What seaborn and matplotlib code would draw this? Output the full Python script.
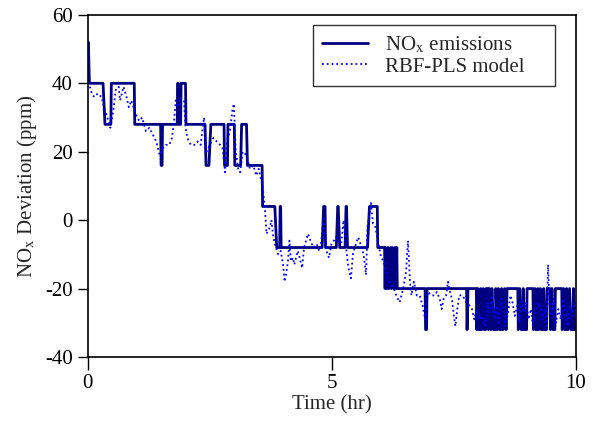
import numpy as np
import pandas as pd
import seaborn as sns
import matplotlib
matplotlib.use("Agg")
import matplotlib.pyplot as plt

# --- Measured NOx emissions (step signal, ppm deviation) ---
nox_time = [0.00, 0.01, 0.03, 0.31, 0.35, 0.47, 0.48, 0.95, 0.96, 1.49, 1.50, 1.52, 1.53,
            1.83, 1.84, 1.85, 1.86, 1.90, 1.91, 2.00, 2.01, 2.40, 2.42, 2.48, 2.52, 2.79,
            2.80, 2.86, 2.87, 3.00, 3.01, 3.13, 3.15, 3.25, 3.27, 3.57, 3.58, 3.83, 3.87,
            3.93, 3.94, 3.95, 3.96, 4.80, 4.83, 4.86, 4.87, 5.09, 5.12, 5.13, 5.16, 5.27,
            5.29, 5.30, 5.32, 5.73, 5.77, 5.93, 5.94, 6.08, 6.09, 6.10, 6.13, 6.15, 6.17,
            6.20, 6.22, 6.24, 6.27, 6.29, 6.31, 6.33, 6.34, 6.91, 6.92, 6.94, 6.95, 7.76,
            7.77, 7.79, 7.96, 7.97, 7.99, 8.01, 8.04, 8.05, 8.07, 8.10, 8.12, 8.15, 8.16,
            8.20, 8.21, 8.23, 8.26, 8.28, 8.31, 8.35, 8.36, 8.39, 8.41, 8.44, 8.47, 8.48,
            8.51, 8.54, 8.57, 8.59, 8.81, 8.82, 8.85, 8.88, 8.91, 8.92, 8.95, 8.99, 9.00,
            9.12, 9.13, 9.16, 9.18, 9.21, 9.22, 9.24, 9.27, 9.29, 9.33, 9.34, 9.37, 9.40,
            9.41, 9.47, 9.48, 9.51, 9.53, 9.57, 9.58, 9.71, 9.72, 9.75, 9.77, 9.80, 9.81,
            9.84, 9.87, 9.90, 9.94, 9.95, 9.97, 10.00]
nox_ppm = [40, 52, 40, 40, 28, 28, 40, 40, 28, 28, 16, 16, 28,
           28, 40, 40, 28, 28, 40, 40, 28, 28, 16, 16, 28, 28,
           16, 16, 28, 28, 16, 16, 28, 28, 16, 16, 4, 4, -8,
           -8, 4, 4, -8, -8, 4, 4, -8, -8, 4, 4, -8, -8,
           4, 4, -8, -8, 4, 4, -8, -8, -20, -8, -20, -8, -20,
           -8, -20, -8, -20, -8, -20, -8, -20, -20, -32, -32, -20, -20,
           -32, -20, -20, -32, -20, -32, -32, -20, -32, -20, -32, -32, -20,
           -20, -32, -20, -32, -20, -32, -32, -20, -32, -20, -32, -32, -20,
           -32, -20, -32, -20, -20, -32, -20, -32, -32, -20, -32, -32, -20,
           -20, -32, -20, -32, -32, -20, -32, -20, -32, -32, -20, -32, -32,
           -20, -20, -32, -20, -32, -32, -20, -20, -32, -20, -32, -32, -20,
           -32, -20, -32, -32, -20, -32, -32]

# --- RBF-PLS model prediction ---
model_time = [0.00, 0.01, 0.02, 0.04, 0.08, 0.13, 0.20, 0.28, 0.33, 0.40, 0.46, 0.52, 0.57,
              0.63, 0.66, 0.73, 0.79, 0.84, 0.89, 0.98, 1.05, 1.11, 1.19, 1.26, 1.33, 1.40,
              1.47, 1.54, 1.60, 1.67, 1.72, 1.76, 1.80, 1.86, 1.90, 1.97, 2.00, 2.04, 2.11,
              2.18, 2.25, 2.31, 2.38, 2.43, 2.50, 2.57, 2.64, 2.71, 2.76, 2.81, 2.85, 2.91,
              2.96, 2.99, 3.03, 3.08, 3.12, 3.17, 3.25, 3.32, 3.39, 3.45, 3.50, 3.53, 3.58,
              3.63, 3.66, 3.73, 3.76, 3.79, 3.83, 3.90, 3.95, 4.00, 4.03, 4.06, 4.10, 4.13,
              4.16, 4.20, 4.23, 4.30, 4.34, 4.39, 4.43, 4.47, 4.51, 4.56, 4.62, 4.69, 4.74,
              4.77, 4.83, 4.89, 4.94, 4.99, 5.04, 5.09, 5.14, 5.19, 5.24, 5.29, 5.34, 5.39,
              5.43, 5.49, 5.54, 5.61, 5.65, 5.70, 5.73, 5.80, 5.84, 5.89, 5.94, 6.01, 6.06,
              6.10, 6.17, 6.27, 6.32, 6.39, 6.46, 6.52, 6.56, 6.60, 6.63, 6.68, 6.74, 6.80,
              6.86, 6.91, 6.94, 6.97, 7.04, 7.11, 7.15, 7.21, 7.25, 7.29, 7.34, 7.38, 7.42,
              7.46, 7.50, 7.53, 7.57, 7.61, 7.68, 7.75, 7.82, 7.87, 7.92, 7.96, 8.02, 8.08,
              8.14, 8.19, 8.24, 8.28, 8.33, 8.38, 8.42, 8.47, 8.52, 8.56, 8.61, 8.66, 8.70,
              8.75, 8.80, 8.84, 8.89, 8.93, 8.98, 9.03, 9.08, 9.12, 9.17, 9.22, 9.27, 9.31,
              9.36, 9.40, 9.43, 9.46, 9.50, 9.55, 9.59, 9.64, 9.69, 9.74, 9.78, 9.83, 9.88,
              9.93, 9.97, 10.00]
model_ppm = [40, 50, 44, 39, 37, 36, 37, 36, 33, 30, 27, 32, 38,
             39, 35, 39, 36, 33, 35, 31, 29, 30, 26, 27, 25, 23,
             19, 21, 22, 22, 24, 28, 35, 33, 35, 35, 27, 24, 22,
             22, 23, 22, 30, 20, 22, 24, 23, 22, 21, 14, 23, 26,
             32, 34, 20, 15, 14, 20, 19, 15, 16, 13, 15, 13, 10,
             3, -4, -2, 0, -4, -7, -10, -9, -13, -18, -16, -12, -6,
             -12, -11, -13, -9, -11, -14, -8, -6, -4, -6, -8, -7, -9,
             -8, 1, -9, -11, -7, -6, -5, -6, -7, 0, -8, -14, -17,
             -10, -7, -5, -8, -10, -16, -2, 5, -1, -2, -6, -11, -12,
             -15, -18, -20, -22, -24, -20, -15, -6, -18, -22, -18, -22, -22,
             -25, -29, -23, -21, -22, -22, -21, -23, -26, -23, -22, -18, -21,
             -23, -28, -31, -26, -22, -22, -24, -25, -26, -29, -26, -29, -28,
             -31, -24, -27, -22, -29, -25, -30, -23, -26, -31, -27, -22, -24,
             -28, -25, -30, -23, -27, -24, -29, -26, -31, -27, -24, -25, -29,
             -26, -31, -13, -25, -28, -23, -30, -26, -29, -23, -27, -31, -25,
             -28, -24, -26]

nox_df = pd.DataFrame({"Time": nox_time, "NOx": nox_ppm})
model_df = pd.DataFrame({"Time": model_time, "NOx": model_ppm})

sns.set_style("ticks")
plt.rcParams["font.family"] = ["Liberation Serif", "DejaVu Serif"]
plt.rcParams["mathtext.fontset"] = "stix"
plt.rcParams["axes.unicode_minus"] = False

fig = plt.figure(figsize=(5.98, 4.25), dpi=100)
ax = fig.add_axes([0.147, 0.16, 0.816, 0.805])

sns.lineplot(data=nox_df, x="Time", y="NOx", ax=ax, estimator=None, sort=False,
             color="#000080", linewidth=2.0, label=r"NO$_{\mathrm{x}}$ emissions")
sns.lineplot(data=model_df, x="Time", y="NOx", ax=ax, estimator=None, sort=False,
             color="#0000FF", linewidth=1.3, linestyle=":", label="RBF-PLS model")

ax.set_xlim(0, 10)
ax.set_ylim(-40, 60)
ax.set_xticks([0, 5, 10])
ax.set_yticks([-40, -20, 0, 20, 40, 60])
ax.set_xlabel("Time (hr)", fontsize=15, labelpad=1)
ax.set_ylabel(r"NO$_{\mathrm{x}}$ Deviation (ppm)", fontsize=15, labelpad=4)
ax.tick_params(axis="both", direction="out", width=1, labelsize=15, colors="black")
ax.tick_params(axis="x", length=9.5, pad=3)
ax.tick_params(axis="y", length=7, pad=4)
for s in ax.spines.values():
    s.set_visible(True)
    s.set_linewidth(1.2)
    s.set_color("black")

# legend box stretched to the reference width, entries left-aligned
leg = ax.legend(loc="upper right", bbox_to_anchor=(0.461, 0.5, 0.496, 0.471),
                mode="expand", borderaxespad=0, fontsize=15, frameon=True,
                fancybox=False, handlelength=2.2, handletextpad=0.8,
                borderpad=0.45, labelspacing=0.1)
leg.get_frame().set_edgecolor("black")
leg.get_frame().set_linewidth(1.0)

fig.savefig("out.png", dpi=100)
